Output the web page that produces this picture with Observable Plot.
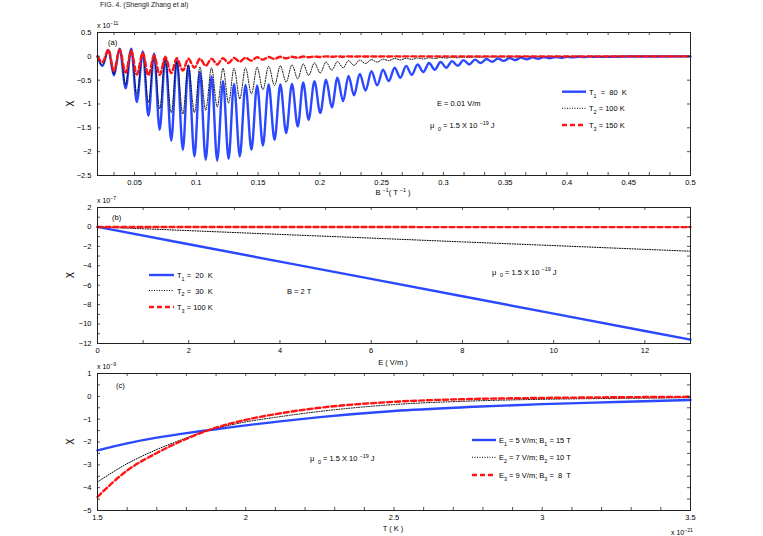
<!DOCTYPE html>
<html><head><meta charset="utf-8">
<script src="https://cdn.jsdelivr.net/npm/d3@7"></script>
<script src="https://cdn.jsdelivr.net/npm/@observablehq/plot@0.6"></script>
<style>
body{margin:0;background:#fff;}
#wrap{position:relative;width:763px;height:536px;overflow:hidden;font-family:"Liberation Sans",Arial,Helvetica,sans-serif;}
#wrap svg{position:absolute;left:0;overflow:visible;background:transparent;}
#title{position:absolute;left:100px;top:1px;font-size:7px;color:#222;}
</style></head><body>
<div id="wrap"><div id="title">FIG. 4. (Shengli Zhang et al)</div></div>
<script>
const FONT = '"Liberation Sans", Arial, Helvetica, sans-serif';
const BLUE = "#2a48ff", RED = "#ff1414";

// ---------- panel (a): chi (x1e-11) vs 1/B ----------
const bInv = [0.020,0.0240,0.0288,0.0333,0.0379,0.0428,0.0473,0.0518,0.0567,0.0612,0.0658,0.0703,0.0749,0.0797,0.0842,0.0891,0.0935,0.0985,0.1029,0.1076,0.1123,0.1169,0.1216,0.1261,0.1305,0.1352,0.1398,0.1446,0.1492,0.1539,0.1585,0.1633,0.1680,0.1727,0.1774,0.1821,0.1865,0.1909,0.1956,0.2003,0.2050,0.2097,0.2142,0.2188,0.2232,0.2276,0.2323,0.2370,0.2417,0.2464,0.2511,0.2558,0.2605,0.2651,0.2698,0.2744,0.2791,0.2837,0.2884,0.2930,0.2977,0.3023,0.3070,0.3116,0.3163,0.3209,0.3256,0.3302,0.3349,0.3395,0.3442,0.3488,0.3535,0.3581,0.3628,0.3674,0.3721,0.3767,0.3814,0.3860,0.3907,0.3953,0.4000,0.4046,0.4093,0.4139,0.4186,0.4232,0.4500,0.5000];
const chiA1 = [0,-0.20,0.13,-0.40,0.16,-0.67,0.16,-0.96,0.10,-1.25,0.06,-1.54,0.00,-1.77,-0.05,-1.96,-0.19,-2.10,-0.33,-2.17,-0.42,-2.19,-0.52,-2.15,-0.58,-2.10,-0.60,-1.96,-0.61,-1.87,-0.59,-1.75,-0.59,-1.61,-0.58,-1.47,-0.55,-1.33,-0.52,-1.19,-0.49,-1.07,-0.45,-0.94,-0.41,-0.82,-0.37,-0.72,-0.31,-0.61,-0.28,-0.52,-0.24,-0.45,-0.20,-0.39,-0.17,-0.33,-0.14,-0.28,-0.12,-0.24,-0.10,-0.20,-0.08,-0.17,-0.07,-0.14,-0.055,-0.115,-0.045,-0.095,-0.035,-0.078,-0.028,-0.063,-0.022,-0.05,-0.017,-0.04,-0.013,-0.03,-0.01,-0.022,-0.008,-0.016,-0.006,-0.011,-0.004,-0.001];
const chiA2 = [0,-0.19,0.13,-0.38,0.16,-0.60,0.15,-0.80,0.08,-0.97,0.03,-1.10,-0.05,-1.18,-0.12,-1.21,-0.18,-1.18,-0.22,-1.13,-0.24,-1.06,-0.25,-0.98,-0.25,-0.89,-0.24,-0.79,-0.23,-0.70,-0.21,-0.61,-0.20,-0.54,-0.18,-0.47,-0.16,-0.40,-0.14,-0.35,-0.12,-0.29,-0.11,-0.24,-0.09,-0.19,-0.08,-0.15,-0.07,-0.12,-0.06,-0.09,-0.045,-0.075,-0.04,-0.065,-0.035,-0.055,-0.03,-0.045,-0.025,-0.035,-0.02,-0.03,-0.015,-0.025,-0.012,-0.02,-0.01,-0.016,-0.008,-0.013,-0.006,-0.01,-0.005,-0.008,-0.004,-0.006,-0.003,-0.005,-0.002,-0.004,-0.002,-0.003,-0.001,-0.002,-0.001,-0.001,0,0];
const chiA3 = [0,-0.12,0.14,-0.30,0.14,-0.34,0.12,-0.38,0.07,-0.40,0.02,-0.39,-0.02,-0.35,-0.04,-0.30,-0.05,-0.24,-0.05,-0.20,-0.05,-0.17,-0.04,-0.14,-0.035,-0.11,-0.03,-0.09,-0.02,-0.07,-0.015,-0.055,-0.01,-0.04,-0.01,-0.03,-0.005,-0.02,-0.005,-0.015,0,-0.01,0,-0.008,0,-0.006,0,-0.005,0,-0.004,0,-0.003,0,-0.002,0,0,0,0,0,0,0,0,0,0,0,0,0,0,0,0,0,0,0,0,0,0,0,0,0,0,0,0,0,0,0,0,0,0,0,0];
const xTicksA = [0.05,0.1,0.15,0.2,0.25,0.3,0.35,0.4,0.45,0.5];
const yTicksA = [0.5,0,-0.5,-1,-1.5,-2,-2.5];
const legendA = [["T",["1","sub"],"  =  80  K"],["T",["2","sub"]," = 100 K"],["T",["3","sub"]," = 150 K"]];

// ---------- panel (b): chi (x1e-7) vs E ----------
const eField = [0,2,4,6,8,10,12,13];
const chiB1 = [0,-1.78,-3.57,-5.35,-7.14,-8.92,-10.71,-11.6];
const chiB2 = [0,-0.38,-0.77,-1.15,-1.54,-1.92,-2.31,-2.5];
const chiB3 = [0,-0.01,-0.01,-0.01,-0.02,-0.02,-0.02,-0.02];
const xTicksB = [0,2,4,6,8,10,12];
const yTicksB = [2,0,-2,-4,-6,-8,-10,-12];
const legendB = [["T",["1","sub"]," =  20  K"],["T",["2","sub"]," =  30  K"],["T",["3","sub"]," = 100 K"]];

// ---------- panel (c): chi (x1e-9) vs T ----------
const temp = [1.5,1.6,1.7,1.8,1.87,1.9,2.0,2.1,2.25,2.5,2.75,3.0,3.25,3.5];
const chiC1 = [-2.37,-2.06,-1.81,-1.61,-1.49,-1.44,-1.27,-1.12,-0.91,-0.64,-0.47,-0.34,-0.25,-0.16];
const chiC2 = [-3.75,-2.95,-2.33,-1.82,-1.50,-1.40,-1.12,-0.92,-0.66,-0.36,-0.21,-0.13,-0.09,-0.06];
const chiC3 = [-4.40,-3.25,-2.48,-1.86,-1.50,-1.37,-1.03,-0.78,-0.50,-0.24,-0.12,-0.07,-0.04,-0.02];
const xTicksC = [1.5,2,2.5,3,3.5];
const yTicksC = [1,0,-1,-2,-3,-4,-5];
const legendC = [["E",["1","sub"]," = 5 V/m; B",["1","sub"]," = 15 T"],["E",["2","sub"]," = 7 V/m; B",["2","sub"]," = 10 T"],["E",["3","sub"]," = 9 V/m; B",["3","sub"]," =  8  T"]];

const styles = [
  {stroke: BLUE, strokeWidth: 2.4},
  {stroke: "#000", strokeWidth: 1, strokeDasharray: "1,1.5"},
  {stroke: RED, strokeWidth: 2.4, strokeDasharray: "5,3"}
];
const fmt = d => (d < 0 ? "\u2212" : "") + String(Math.abs(d));
const wrap = document.getElementById("wrap");

function makePanel({top, height, mt, mb, xDomain, yDomain, xMajor, xMinor, yMajor, yMinor, xs, ys, curve}) {
  const ih = height - mt - mb, iw = 763 - 97 - 73, tl = 3;
  const tk = {stroke: "#222", strokeWidth: 0.8};
  const svg = Plot.plot({
    width: 763, height, marginLeft: 97, marginRight: 73, marginTop: mt, marginBottom: mb,
    x: {domain: xDomain}, y: {domain: yDomain},
    style: {fontFamily: FONT, fontSize: "7.5px", background: "transparent", color: "#000", overflow: "visible"},
    marks: [
      ...ys.map((yv, i) => Plot.line(xs.map((x, j) => ({x, y: yv[j]})), {x: "x", y: "y", curve, ...styles[i]})),
      Plot.tickX(xMinor, {x: d => d, insetTop: ih - tl, ...tk}),
      Plot.tickX(xMinor, {x: d => d, insetBottom: ih - tl, ...tk}),
      Plot.tickY(yMinor, {y: d => d, insetRight: iw - tl, ...tk}),
      Plot.tickY(yMinor, {y: d => d, insetLeft: iw - tl, ...tk}),
      Plot.frame({stroke: "#222", strokeWidth: 1}),
      Plot.axisX(xMajor, {anchor: "bottom", tickSize: 0, tickPadding: 4, label: null, tickFormat: fmt}),
      Plot.axisY(yMajor, {anchor: "left", tickSize: 0, tickPadding: 6, label: null, tickFormat: fmt})
    ]
  });
  svg.style.top = top + "px";
  wrap.appendChild(svg);
  return {svg, top};
}

function rich(p, x, y, parts, {anchor = "start", size = 7.5, rotate = null} = {}) {
  const t = d3.select(p.svg).append("text")
    .attr("x", x).attr("y", y - p.top)
    .attr("font-family", FONT).attr("font-size", size)
    .attr("text-anchor", anchor).attr("fill", "#000")
    .style("white-space", "pre");
  if (rotate !== null) t.attr("transform", `rotate(${rotate},${x},${y - p.top})`);
  let shift = 0;
  for (const part of parts) {
    const [s, kind] = typeof part === "string" ? [part, null] : part;
    const target = kind === "sup" ? -0.42 * size : kind === "sub" ? 0.38 * size : 0;
    t.append("tspan").attr("dy", target - shift).attr("font-size", kind ? size * 0.72 : size).text(s);
    shift = target;
  }
  return t;
}

function legend(p, x0, x1, ys, rows) {
  rows.forEach((r, i) => {
    const st = styles[i];
    d3.select(p.svg).append("line")
      .attr("x1", x0).attr("x2", x1).attr("y1", ys[i] - p.top).attr("y2", ys[i] - p.top)
      .attr("stroke", st.stroke).attr("stroke-width", st.strokeWidth)
      .attr("stroke-dasharray", st.strokeDasharray || null);
    rich(p, x1 + 3, ys[i] + 3, r);
  });
}

// panel a
const pa = makePanel({top: 15, height: 185, mt: 17, mb: 25, xDomain: [0.02, 0.5], yDomain: [-2.5, 0.5],
  xMajor: xTicksA, xMinor: d3.range(2, 31).map(k => k / 60), yMajor: yTicksA, yMinor: yTicksA,
  xs: bInv, ys: [chiA1, chiA2, chiA3], curve: "monotone-x"});
rich(pa, 97, 28, ["x 10", ["\u221211", "sup"]], {size: 7});
rich(pa, 108, 45, ["(a)"]);
rich(pa, 393, 195, ["B ", ["\u22121", "sup"], "( T ", ["\u22121", "sup"], " )"], {anchor: "middle"});
rich(pa, 437, 105.5, ["E = 0.01 V/m"]);
rich(pa, 430, 128, ["\u03bc ", [" 0", "sub"], " = 1.5 X 10 ", ["\u221219", "sup"], " J"]);
legend(pa, 562, 586, [91.7, 108.3, 125], legendA);
rich(pa, 72, 103.5, ["\u03c7"], {anchor: "middle", size: 11, rotate: -90});

// panel b
const pb = makePanel({top: 196, height: 168, mt: 11, mb: 21, xDomain: [0, 13], yDomain: [-12, 2],
  xMajor: xTicksB, xMinor: d3.range(0, 14), yMajor: yTicksB, yMinor: d3.range(-12, 3),
  xs: eField, ys: [chiB1, chiB2, chiB3], curve: "linear"});
rich(pb, 97, 203, ["x 10", ["\u22127", "sup"]], {size: 7});
rich(pb, 112, 219.5, ["(b)"]);
rich(pb, 393, 364.5, ["E ( V/m )"], {anchor: "middle"});
legend(pb, 149, 174, [275, 290.5, 307], legendB);
rich(pb, 287, 294, ["B = 2 T"]);
rich(pb, 492, 274.5, ["\u03bc ", [" 0", "sub"], " = 1.5 X 10 ", ["\u221219", "sup"], " J"]);
rich(pb, 72, 275, ["\u03c7"], {anchor: "middle", size: 11, rotate: -90});

// panel c
const pc = makePanel({top: 362, height: 174, mt: 11, mb: 26, xDomain: [1.5, 3.5], yDomain: [-5, 1],
  xMajor: xTicksC, xMinor: d3.range(15, 36).map(k => k / 10), yMajor: yTicksC, yMinor: d3.range(-10, 3).map(k => k / 2),
  xs: temp, ys: [chiC1, chiC2, chiC3], curve: "monotone-x"});
rich(pc, 97, 368.5, ["x 10", ["\u22129", "sup"]], {size: 7});
rich(pc, 116, 388, ["(c)"]);
rich(pc, 393, 531, ["T ( K )"], {anchor: "middle"});
rich(pc, 671, 535, ["x 10", ["\u221221", "sup"]], {size: 7});
legend(pc, 472, 496, [440, 457.3, 475], legendC);
rich(pc, 310, 461, ["\u03bc ", [" 0", "sub"], " = 1.5 X 10 ", ["\u221219", "sup"], " J"]);
rich(pc, 72, 441.5, ["\u03c7"], {anchor: "middle", size: 11, rotate: -90});
</script></body></html>
